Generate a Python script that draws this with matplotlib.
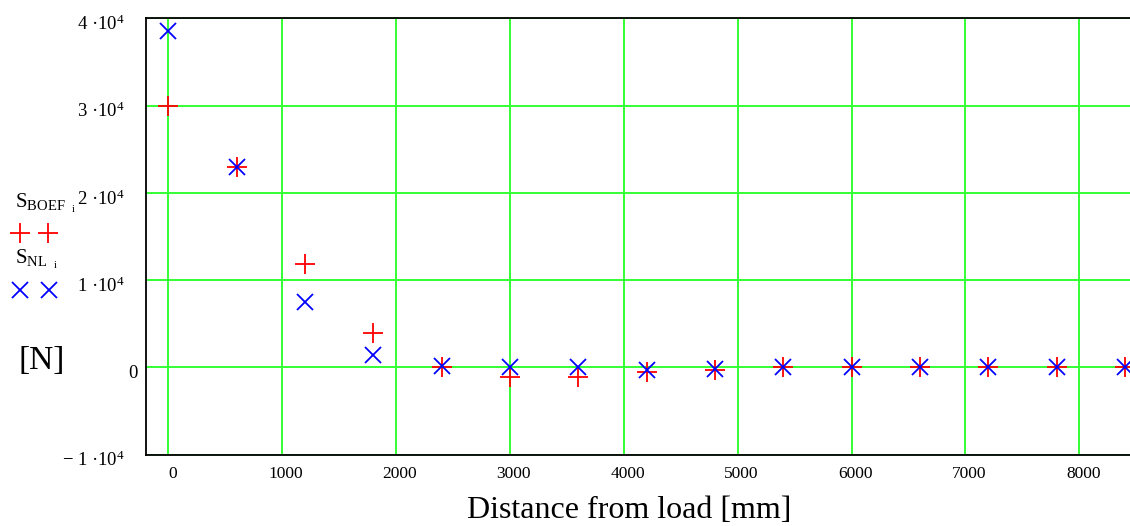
import matplotlib
matplotlib.use("Agg")
import matplotlib.pyplot as plt
import matplotlib.transforms as mtransforms
import numpy as np

# ---- data ----
distance_mm = [0, 600, 1200, 1800, 2400, 3000, 3600, 4200, 4800, 5400, 6000, 6600, 7200, 7800, 8400]
s_boef = [30000, 23000, 11900, 4000, 50, -1050, -1050, -550, -300, 0, 50, 100, 100, 80, 50]
s_nl = [38600, 23000, 7500, 1450, 150, 0, 0, -250, -150, 0, 0, 0, 0, 0, 0]
x_ticks = [0, 1000, 2000, 3000, 4000, 5000, 6000, 7000, 8000]
y_ticks = [-10000, 0, 10000, 20000, 30000, 40000]
y_tick_labels = ["\u2212 1 ·10$^{4}$", "0", "1 ·10$^{4}$",
                 "2 ·10$^{4}$", "3 ·10$^{4}$", "4 ·10$^{4}$"]

plt.rcParams["font.family"] = ["Liberation Serif", "DejaVu Serif"]
plt.rcParams["mathtext.fontset"] = "custom"
plt.rcParams["mathtext.rm"] = "Liberation Serif"
plt.rcParams["mathtext.it"] = "Liberation Serif:italic"
plt.rcParams["mathtext.bf"] = "Liberation Serif:bold"

W, H = 1130, 526
fig = plt.figure(figsize=(W / 100, H / 100), dpi=100)
ax = fig.add_axes([146 / W, 1 - 454.7 / H, (1130 - 146) / W, (454.7 - 18.3) / H])

ax.set_xlim(-195, 8445)
ax.set_ylim(-10000, 40000)
ax.set_xticks(x_ticks)
ax.set_xticklabels([str(t) for t in x_ticks], fontsize=12.5)
ax.set_yticks(y_ticks)
ax.set_yticklabels(y_tick_labels, fontsize=13.5)
ax.tick_params(length=0)
ax.tick_params(axis="x", pad=8)
ax.tick_params(axis="y", pad=15)
xoff = mtransforms.ScaledTranslation(4 / 100, 0, fig.dpi_scale_trans)
for lab in ax.get_xticklabels():
    lab.set_transform(lab.get_transform() + xoff)
for lab in ax.get_yticklabels():
    dx = 12 if lab.get_text() == "0" else 0
    lab.set_transform(lab.get_transform() +
                      mtransforms.ScaledTranslation(dx / 100, -4 / 100, fig.dpi_scale_trans))

ax.grid(True, color="#33ff33", linewidth=1.4)
ax.set_axisbelow(True)
for s in ["left", "bottom", "top"]:
    ax.spines[s].set_linewidth(1.3)
    ax.spines[s].set_color("black")
ax.spines["right"].set_visible(False)

ax.plot(distance_mm, s_boef, linestyle="none", marker="+", color="red",
        markersize=15, markeredgewidth=1.3, clip_on=False, zorder=3)
ax.plot(distance_mm, s_nl, linestyle="none", marker="x", color="blue",
        markersize=12, markeredgewidth=1.3, clip_on=False, zorder=4)

ax.set_xlabel("Distance from load [mm]", fontsize=23, labelpad=10)
ax.xaxis.label.set_x((629 - 146) / 984)

# ---- left legend block (Mathcad style) ----
ov = fig.add_axes([0, 0, 1, 1], facecolor="none")
ov.set_xlim(0, W)
ov.set_ylim(H, 0)
ov.axis("off")
ov.text(15, 203, r"$\mathrm{S}_{\mathrm{BOEF}\ \ _{\mathrm{i}}}$", fontsize=15, va="center", ha="left")
ov.plot([20, 48], [233, 233], linestyle="none", marker="+", color="red",
        markersize=15, markeredgewidth=1.3)
ov.text(15, 259, r"$\mathrm{S}_{\mathrm{NL}\ \ _{\mathrm{i}}}$", fontsize=15, va="center", ha="left")
ov.plot([20, 49], [290, 290], linestyle="none", marker="x", color="blue",
        markersize=12, markeredgewidth=1.3)
ov.text(42, 361, "[N]", fontsize=24, va="center", ha="center")

fig.savefig("out.png", dpi=100)
